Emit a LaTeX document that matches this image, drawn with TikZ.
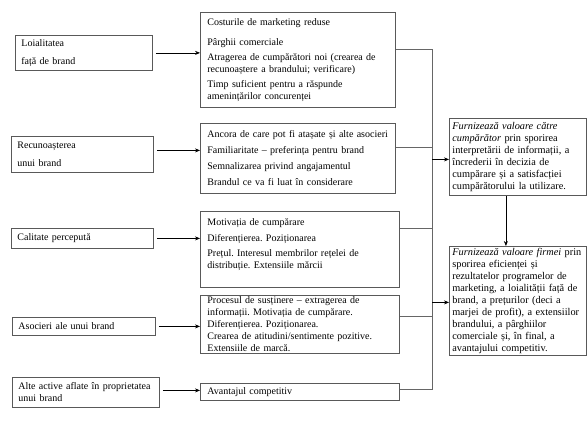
\documentclass[tikz,border=0pt]{standalone}
\usepackage{fontspec}
\setmainfont{Liberation Serif}
\usetikzlibrary{arrows.meta,calc}
\frenchspacing
\begin{document}
\begin{tikzpicture}[x=1pt,y=-1pt,
 fs/.style={font=\fontsize{10}{12}\selectfont},
 box/.style={draw=black!65, line width=0.8pt, anchor=north west, align=left, inner xsep=6pt, inner ysep=0pt, fs},
 midbox/.style={box, inner xsep=7pt},
 rbox/.style={box, inner xsep=3pt, font=\fontsize{10.3}{12}\selectfont},
 arr/.style={-{Stealth[length=5pt,width=4pt]}, line width=0.6pt, black},
 link/.style={draw=black!60, line width=0.8pt}]
\useasboundingbox (0,0) rectangle (588,441);

% left boxes
\node[box, text width=125pt, minimum height=35pt] (l1) at (15,35) {Loialitatea\\[6pt]față de brand};
\node[box, text width=130pt, minimum height=36pt] (l2) at (11,136) {Recunoașterea\\[6pt]unui brand};
\node[box, text width=130pt, minimum height=20pt] (l3) at (11,228) {Calitate percepută};
\node[box, text width=131pt, minimum height=18pt] (l4) at (12,317) {Asocieri ale unui brand};
\node[box, text width=135pt, minimum height=30pt] (l5) at (12,377) {Alte active aflate în proprietatea\\unui brand};

% middle boxes
\node[midbox, text width=181pt, minimum height=95pt] (a) at (200,12) {Costurile de marketing reduse\\[8pt]Pârghii comerciale\\[3pt]Atragerea de cumpărători noi (crearea de\\recunoaștere a brandului; verificare)\\[3pt]Timp suficient pentru a răspunde\\amenințărilor concurenței};
\node[midbox, text width=181pt, minimum height=70pt] (b) at (200,123) {Ancora de care pot fi atașate și alte asocieri\\[4pt]Familiaritate – preferința pentru brand\\[4pt]Semnalizarea privind angajamentul\\[4pt]Brandul ce va fi luat în considerare};
\node[midbox, text width=185pt, minimum height=76pt] (c) at (200,211) {Motivația de cumpărare\\[4pt]Diferențierea. Poziționarea\\[3pt]Prețul. Interesul membrilor rețelei de\\distribuție. Extensiile mărcii\\[-1pt]~};
\node[midbox, text width=185pt, minimum height=58pt] (d) at (200,295) {Procesul de susținere – extragerea de\\informații. Motivația de cumpărare.\\Diferențierea. Poziționarea.\\Crearea de atitudini/sentimente pozitive.\\Extensiile de marcă.};
\node[midbox, text width=185pt, minimum height=17pt] (e) at (200,383) {Avantajul competitiv};

% right boxes
\node[rbox, text width=131pt, minimum height=77pt] (r1) at (449,118) {\textit{Furnizează valoare către}\\\textit{cumpărător} prin sporirea\\interpretării de informații, a\\încrederii în decizia de\\cumpărare și a satisfacției\\cumpărătorului la utilizare.};
\node[rbox, text width=131pt, minimum height=109pt] (r2) at (449,246) {\textit{Furnizează valoare firmei} prin\\sporirea eficienței și\\rezultatelor programelor de\\marketing, a loialității față de\\brand, a prețurilor (deci a\\marjei de profit), a extensiilor\\brandului, a pârghiilor\\comerciale și, în final, a\\avantajului competitiv.};

% arrows left -> middle
\coordinate (p1) at ([xshift=3pt]l1.east);
\coordinate (p2) at ([xshift=3pt,yshift=4pt]l2.east);
\coordinate (p3) at ([xshift=3pt]l3.east);
\coordinate (p4) at ([xshift=3pt]l4.east);
\coordinate (p5) at ([xshift=3pt,yshift=2pt]l5.east);
\draw[arr] (p1) -- (p1 -| a.west);
\draw[arr] (p2) -- (p2 -| b.west);
\draw[arr] (p3) -- (p3 -| c.west);
\draw[arr] (p4) -- (p4 -| d.west);
\draw[arr] (p5) -- (p5 -| e.west);

% bus
\coordinate (bx) at (432,0);
\coordinate (ae) at ([yshift=10.5pt]a.east);
\coordinate (be) at ([yshift=11pt]b.east);
\coordinate (ce) at ([yshift=21pt]c.east);
\coordinate (de) at ([yshift=8pt]d.east);
\coordinate (ee) at ([yshift=2.5pt]e.east);
\draw[link] (ae) -- (ae -| bx) -- (ee -| bx) -- (ee);
\draw[link] (be) -- (be -| bx);
\draw[link] (ce) -- (ce -| bx);
\draw[link] (de) -- (de -| bx);

% bus -> right boxes
\coordinate (r1w) at ([yshift=-2.5pt]r1.west);
\coordinate (r2w) at ([yshift=-1.5pt]r2.west);
\draw[arr] (r1w -| bx) -- (r1w);
\draw[arr] (r2w -| bx) -- (r2w);
\draw[arr] ([xshift=-12pt]r1.south) -- ([xshift=-12pt]r2.north);
\end{tikzpicture}
\end{document}
